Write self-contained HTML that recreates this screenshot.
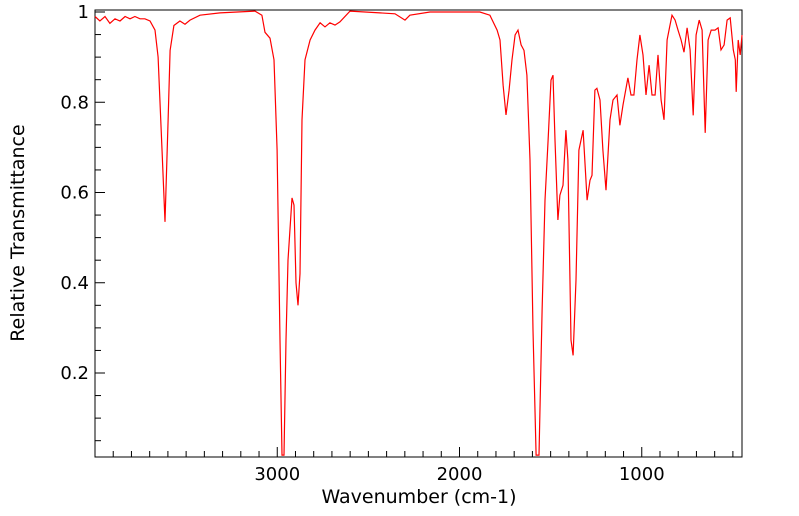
<!DOCTYPE html>
<html><head><meta charset="utf-8"><style>
html,body{margin:0;padding:0;background:#fff;}
svg{display:block;font-family:"DejaVu Sans","Liberation Sans",sans-serif;}
</style></head>
<body>
<svg id="chart" width="799" height="516" viewBox="0 0 799 516" xmlns="http://www.w3.org/2000/svg">
<rect x="95" y="10" width="647" height="447" fill="#fff" stroke="#000" stroke-width="1"/>
<g id="xticks"></g>
<g id="yticks"></g>
<path id="spectrum" fill="none" stroke="#ff0000" stroke-width="1.2"/>
<text x="419" y="503" font-size="19" text-anchor="middle">Wavenumber (cm-1)</text>
<text transform="translate(24,233) rotate(-90)" font-size="19" text-anchor="middle">Relative Transmittance</text>
</svg>
<script>
const wavenumbers=[4000,3973,3945,3918,3890,3863,3835,3808,3781,3753,3726,3698,3671,3654,3632,3616,3599,3588,3567,3534,3506,3479,3424,3314,3122,3084,3067,3040,3018,3001,2985,2974,2963,2952,2941,2919,2908,2897,2886,2875,2864,2848,2820,2793,2765,2738,2711,2683,2656,2601,2436,2354,2299,2272,2162,1888,1833,1794,1778,1761,1745,1728,1712,1695,1679,1662,1646,1630,1613,1597,1580,1564,1547,1531,1514,1498,1487,1476,1460,1449,1432,1416,1405,1388,1377,1361,1345,1322,1300,1284,1273,1257,1246,1229,1213,1196,1174,1158,1136,1120,1103,1076,1059,1043,1026,1010,993,977,960,944,927,911,894,878,861,845,834,817,801,784,768,751,735,718,702,685,669,652,636,619,598,581,565,548,532,515,498,487,482,471,460,450];
const transmittance=[0.99,0.98,0.99,0.975,0.985,0.98,0.99,0.985,0.99,0.985,0.985,0.98,0.96,0.90,0.69,0.535,0.76,0.915,0.97,0.98,0.973,0.982,0.993,0.998,1.002,0.993,0.955,0.942,0.894,0.694,0.273,0.018,0.018,0.273,0.45,0.588,0.572,0.40,0.35,0.42,0.761,0.894,0.938,0.96,0.976,0.967,0.976,0.971,0.978,1.002,0.998,0.996,0.982,0.993,1.0,1.0,0.993,0.96,0.938,0.838,0.772,0.827,0.894,0.949,0.96,0.927,0.915,0.86,0.672,0.295,0.018,0.018,0.339,0.583,0.716,0.849,0.86,0.716,0.539,0.594,0.616,0.738,0.672,0.273,0.239,0.406,0.694,0.738,0.583,0.627,0.638,0.827,0.831,0.805,0.694,0.605,0.761,0.805,0.816,0.749,0.794,0.854,0.816,0.816,0.894,0.949,0.905,0.816,0.882,0.816,0.816,0.905,0.805,0.761,0.938,0.971,0.993,0.982,0.96,0.938,0.911,0.965,0.916,0.771,0.949,0.982,0.96,0.732,0.938,0.96,0.96,0.965,0.916,0.927,0.982,0.987,0.916,0.894,0.823,0.938,0.905,0.949];
const xTickLabels=[3000,2000,1000];
const yTickLabels=[0.2,0.4,0.6,0.8,1];
const NS="http://www.w3.org/2000/svg";
const X0=95,X1=742,WMAX=4000,WMIN=450;
function xs(w){return X0+(WMAX-w)/(WMAX-WMIN)*(X1-X0);}
function ys(v){return 12+(1-v)*451.25;}
const pts=wavenumbers.map((w,i)=>xs(w).toFixed(1)+","+Math.min(Math.max(ys(transmittance[i]),10),457).toFixed(1));
document.getElementById('spectrum').setAttribute('d','M'+pts.join('L'));
const xg=document.getElementById('xticks');
for(let w=3900;w>=500;w-=100){
  const major=w%1000===0;
  const l=document.createElementNS(NS,'line');
  
  
  const x=xs(w);
  l.setAttribute('x1',x);l.setAttribute('x2',x);
  l.setAttribute('y1',457);l.setAttribute('y2',major?447:451);
  l.setAttribute('stroke','#000');xg.appendChild(l);
}
xTickLabels.forEach(v=>{
  const t=document.createElementNS(NS,'text');
  
  
  t.setAttribute('x',xs(v));t.setAttribute('y',480);
  t.setAttribute('font-size','18');t.setAttribute('text-anchor','middle');
  t.textContent=v;xg.appendChild(t);
});
const yg=document.getElementById('yticks');
for(let k=1;k<=20;k++){
  const v=k*0.05;
  const major=k%4===0;
  const l=document.createElementNS(NS,'line');
  
  
  const y=ys(v);
  l.setAttribute('x1',95);l.setAttribute('x2',major?105:101);
  l.setAttribute('y1',y);l.setAttribute('y2',y);
  l.setAttribute('stroke','#000');yg.appendChild(l);
}
yTickLabels.forEach(v=>{
  const t=document.createElementNS(NS,'text');
  
  
  t.setAttribute('x',89);t.setAttribute('y',ys(v)+6);
  t.setAttribute('font-size','18');t.setAttribute('text-anchor','end');
  t.textContent=v;yg.appendChild(t);
});
</script>
</body></html>
